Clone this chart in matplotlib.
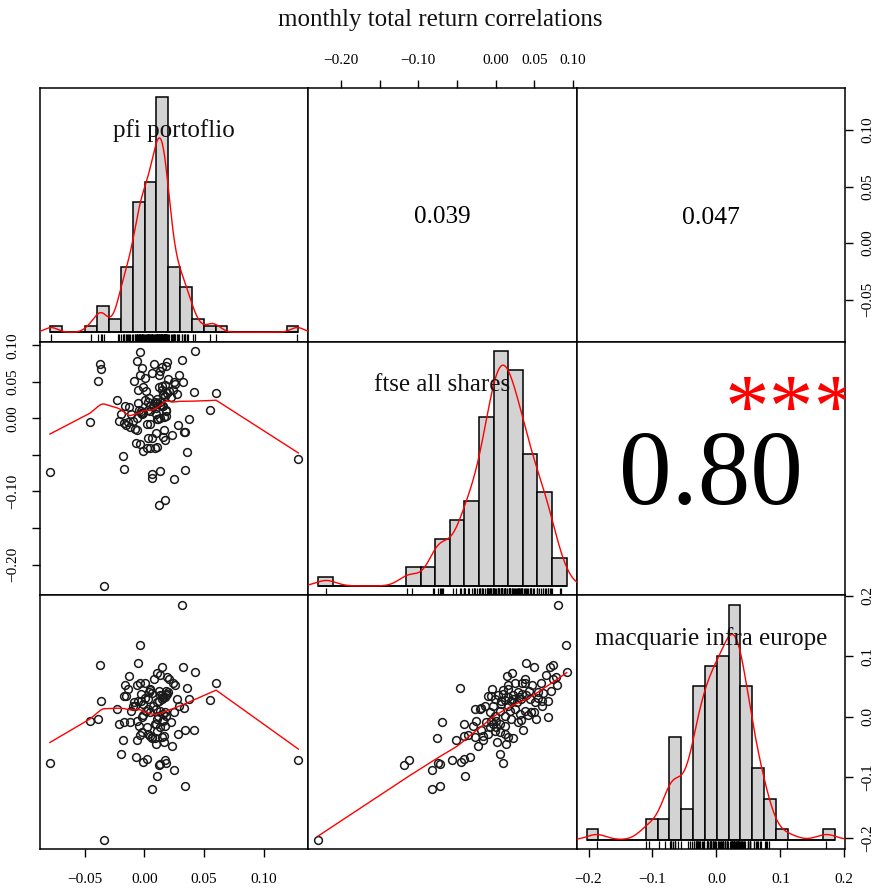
import numpy as np
import matplotlib
matplotlib.use("Agg")
import matplotlib.pyplot as plt

plt.rcParams['font.family'] = ['Liberation Serif', 'DejaVu Serif']
plt.rcParams['axes.unicode_minus'] = True

title = "monthly total return correlations"
var_names = ["pfi portoflio", "ftse all shares", "macquarie infra europe"]

pfi = [0.0315,
       -0.004,
       -0.005, 0.032, -0.037, 0.015,
       0.0427, 0.011, 0.0135, 0.019, -0.013, 0.021, 0.008,
       0.0601, 0.024, -0.004, -0.006, -0.016, 0.0002, 0.0355, -0.014, 0.005, 0.0036, 0.012, 0.0195, 0.018, 0.0048, 0.026,
       0.019, 0.0135, 0.0065, -0.015, -0.017, -0.003, 0.055, 0.016, -0.0055, 0.0275, 0.0008, -0.036, 0.0105, 0.0175,
       0.0035, 0.0145, -0.0085, 0.0185, -0.001, -0.0025, 0.015, 0.012, 0.037,
       -0.008, 0.003, 0.0095, 0.033, -0.011, -0.0226, 0.0018, 0.0175, 0.0245, 0.0072, -0.0095, 0.0155, -0.0015, 0.0115,
       0.0185, 0.0045, 0.0135, 0.029,
       -0.039, -0.002, -0.0455, 0.016, 0.009, -0.006, 0.0105, -0.0215, 0.0025, 0.0175, -0.017, 0.0102, 0.0225, -0.012,
       0.013, -0.0045, 0.016,
       0.005, -0.0035, 0.0164, 0.0107, -0.002, 0.003, 0.0144, 0.0092, 0.0413, 0.0065, 0.028, 0.034, 0.0064, -0.0065, -0.018,
       0.0164, 0.023, 0.0098,
       -0.0198, 0.018, 0.129, -0.0007, 0.002, -0.007, -0.079, 0.013, 0.0121, 0.017,
       0.025, 0.0107,
       0.0064, 0.034,
       -0.034]

ftse = [0.0803,
        0.0911,
        0.0392, 0.0500, 0.0738, 0.0703,
        0.0920, 0.0214, 0.0651, 0.0777, 0.0154, 0.0379, 0.0747,
        0.0348, 0.0383, 0.0587, 0.0790, 0.0162, 0.0249, -0.0465, -0.0045, 0.0162, 0.0284, 0.0431, 0.0543, 0.0716, 0.0097, 0.0465,
        0.0344, 0.0227, 0.0617, -0.0097, -0.0063, 0.0067, 0.0119, 0.0162, 0.0206, 0.0335, 0.0552, 0.0673, 0.0271, 0.0301,
        0.0227, 0.0444, 0.0509, 0.0032, 0.0076, 0.0097, 0.0390, 0.0595, -0.0011,
        -0.0141, -0.0271, -0.0206, -0.0184, 0.0054, 0.0249, 0.0379, 0.0457, 0.0500, 0.0162, -0.0032, 0.0314, 0.0422, -0.0011,
        0.0119, -0.0076, 0.0184, 0.0595,
        0.0517, 0.0682, -0.0054, -0.0249, -0.0405, 0.0011, 0.0206, -0.0032, -0.0076, -0.0292, -0.0690, 0.0054, 0.0292, -0.0119,
        0.0011, 0.0119, 0.0335,
        -0.0405, -0.0357, -0.0162, -0.0011, 0.0054, 0.0119, 0.0162, 0.0227, 0.0357, -0.0755, -0.0097, -0.0184, -0.0271, -0.0162, -0.0509,
        0.0024, -0.0227, 0.0141,
        0.0054, 0.0097, -0.0561, -0.0452, -0.0405, -0.0335, -0.0738, -0.0716, -0.1180, -0.1115,
        -0.0825, -0.0392,
        -0.0820, -0.0712,
        -0.2292]

macq = [0.1855,
        0.1188,
        0.0883, 0.0822, 0.0855, 0.0827,
        0.0744, 0.0733, 0.0699, 0.0661, 0.0677, 0.0622, 0.0633,
        0.0566, 0.0561, 0.0566, 0.0533, 0.0533, 0.0566, 0.0483, 0.0455, 0.0455, 0.0411, 0.0422, 0.0411, 0.0422, 0.0438, 0.0522,
        0.0383, 0.0366, 0.0388, 0.0344, 0.0344, 0.0255, 0.0272, 0.0327, 0.0255, 0.0288, 0.0311, 0.0255, 0.0244, 0.0327,
        0.0299, 0.0299, 0.0244, 0.0355, 0.0216, 0.0377, 0.0355, 0.0255, 0.0299,
        0.0177, 0.0133, 0.0133, 0.0144, 0.0105, 0.0133, 0.0105, 0.0088, 0.0077, 0.0188, 0.0177, 0.0049, 0.0033, 0.0022,
        0.0022, 0.0077, 0.0105, 0.0177,
        -0.0034, -0.0006, -0.0062, -0.0062, -0.0117, -0.0062, -0.0034, -0.0117, -0.0172, -0.0145, -0.0089, -0.0117, -0.0089,
        -0.0089, -0.0172, -0.0145, -0.0045,
        -0.0312, -0.0301, -0.0312, -0.0228, -0.0256, -0.0284, -0.0339, -0.0356, -0.0212, -0.0351, -0.0284, -0.0212, -0.0339, -0.0378, -0.0389,
        -0.0423, -0.0489, -0.0451,
        -0.0612, -0.0767, -0.0712, -0.0745, -0.0701, -0.0662, -0.0767, -0.0773, -0.0789, -0.0712,
        -0.0878, -0.0984,
        -0.1189, -0.1145,
        -0.203]

# histogram bin edges (as drawn in the reference)
pfi_breaks = np.round(np.arange(-0.08, 0.1301, 0.01), 3)
ftse_breaks = np.round(np.arange(-0.24, 0.1001, 0.02), 3)
macq_breaks = np.round(np.arange(-0.22, 0.2001, 0.02), 3)

# correlation panel contents
cor_pairs = [(0, 1), (0, 2), (1, 2)]
cor_values = [0.039, 0.047, 0.80]
cor_labels = ["0.039", "0.047", "0.80"]
cor_stars = ["", "", "***"]

# axis ticks
pfi_ticks = [-0.05, 0.0, 0.05, 0.10]
pfi_ticklabels = ["\u22120.05", "0.00", "0.05", "0.10"]
ftse_ticks = [-0.20, -0.15, -0.10, -0.05, 0.0, 0.05, 0.10]
ftse_ticklabels = ["\u22120.20", "", "\u22120.10", "", "0.00", "0.05", "0.10"]
macq_ticks = [-0.2, -0.1, 0.0, 0.1, 0.2]
macq_ticklabels = ["\u22120.2", "\u22120.1", "0.0", "0.1", "0.2"]

assert len(pfi) == len(ftse) == len(macq)
series = [np.array(pfi), np.array(ftse), np.array(macq)]
breaks = [pfi_breaks, ftse_breaks, macq_breaks]


def padded(lo, hi, f=0.04):
    d = (hi - lo) * f
    return lo - d, hi + d


def lowess(x, y, f=2 / 3, iters=3):
    o = np.argsort(x, kind="stable")
    x = x[o]; y = y[o]
    n = len(x)
    ns = max(min(int(round(f * n)), n), 2)
    rw = np.ones(n)
    fit = np.zeros(n)
    for it in range(iters + 1):
        for i in range(n):
            d = np.abs(x - x[i])
            h = max(np.sort(d)[ns - 1], 1e-12)
            u = d / h
            w = np.where(u < 0.999, (1 - np.clip(u, 0, 1) ** 3) ** 3, 0.0) * rw
            sw = w.sum()
            xm = (w * x).sum() / sw
            ym = (w * y).sum() / sw
            sxx = (w * (x - xm) ** 2).sum()
            b = (w * (x - xm) * (y - ym)).sum() / sxx if sxx > 1e-14 else 0.0
            fit[i] = ym + b * (x[i] - xm)
        if it == iters:
            break
        res = y - fit
        s = np.median(np.abs(res))
        if s == 0:
            break
        u = res / (6 * s)
        rw = np.where(np.abs(u) < 1, (1 - u ** 2) ** 2, 0.0)
    return x, fit


def kde(v):
    n = len(v)
    sd = v.std(ddof=1)
    q75, q25 = np.percentile(v, [75, 25])
    lo = min(sd, (q75 - q25) / 1.34)
    bw = 0.9 * lo * n ** (-0.2)
    g = np.linspace(v.min() - 3 * bw, v.max() + 3 * bw, 512)
    d = np.exp(-0.5 * ((g[:, None] - v[None, :]) / bw) ** 2).sum(1) / (n * bw * np.sqrt(2 * np.pi))
    return g, d


W, H = 880, 893
fig = plt.figure(figsize=(W / 100, H / 100), dpi=100)
px0, px1 = 40, 845
py0, py1 = 88, 849
pw = (px1 - px0) / 3.0
ph = (py1 - py0) / 3.0


def rect(i, j):
    left = (px0 + j * pw) / W
    bottom = 1 - (py0 + (i + 1) * ph) / H
    return [left, bottom, pw / W, ph / H]


lims = [padded(v.min(), v.max()) for v in series]
TL = dict(direction="out", length=6, width=1.0, labelsize=11, color="black")


def set_xt(ax, vals, labs, top=False):
    ax.set_xticks(vals)
    ax.set_xticklabels(labs)
    ax.tick_params(axis="x", top=top, bottom=not top, labeltop=top, labelbottom=not top,
                   pad=(9 if top else 11), **TL)


def set_yt(ax, vals, labs, right=False):
    ax.set_yticks(vals)
    ax.set_yticklabels(labs, rotation=90, va="center")
    ax.tick_params(axis="y", left=not right, right=right, labelleft=not right, labelright=right,
                   pad=(5.5 if right else 9), **TL)


axes = {}
for i in range(3):
    for j in range(3):
        ax = fig.add_axes(rect(i, j))
        ax.set_xlim(lims[j]); ax.set_ylim(lims[i])
        ax.set_xticks([]); ax.set_yticks([])
        for s in ax.spines.values():
            s.set_linewidth(1.1)
        axes[(i, j)] = ax
        if i > j:
            xs, ys = series[j], series[i]
            ax.plot(xs, ys, "o", mfc="none", mec="#1a1a1a", ms=5.6, mew=1.1, zorder=2)
            lx, ly = lowess(xs, ys)
            ax.plot(lx, ly, color="red", lw=1.0, zorder=3)

# diagonal histograms
for k in range(3):
    v = series[k]
    br = breaks[k]
    counts, _ = np.histogram(v, bins=br)
    dens = counts / (len(v) * np.diff(br))
    hax = fig.add_axes(rect(k, k), frameon=False)
    hax.patch.set_visible(False)
    hax.set_xticks([]); hax.set_yticks([])
    m = dens.max()
    hax.set_xlim(padded(br[0], br[-1]))
    hax.set_ylim(-0.04 * m, 1.04 * m)
    hax.bar(br[:-1], dens, width=np.diff(br), align="edge", color="#D3D3D3",
            edgecolor="black", linewidth=1.1, zorder=2)
    hax.hlines(0, br[0], br[-1], color="black", lw=1.1, zorder=2)
    g, d = kde(v)
    hax.plot(g, d, color="red", lw=1.0, zorder=3)
    ylo = -0.04 * m
    hax.vlines(v, ylo, ylo + 0.03 * (1.08 * m), color="black", lw=0.9, zorder=3)
    hax.text(0.5, 0.805, var_names[k], transform=hax.transAxes, ha="center", va="baseline",
             fontsize=18, color="#111111", zorder=5)

# correlation panels
renderer = fig.canvas.get_renderer()
for (i, j), r, lab, st in zip(cor_pairs, cor_values, cor_labels, cor_stars):
    ax = axes[(i, j)]
    factor = (abs(r) + 0.3) / 1.3
    t = ax.text(0.5, 0.5, lab, transform=ax.transAxes, ha="center", va="baseline", fontsize=10)
    w = t.get_window_extent(renderer).width
    fs = 10 * 0.8 * factor * pw / w
    t.set_fontsize(fs)
    em = fs * 100 / 72
    t.set_y(0.5 - 0.34 * em / ph)
    if st:
        sfs = 0.72 * fs / factor
        sem = sfs * 100 / 72
        ax.text(0.8, 0.8 - 0.52 * sem / ph + 4 / ph, st, transform=ax.transAxes, ha="center", va="baseline",
                fontsize=sfs, color="red", clip_on=True)

# outer axes
set_xt(axes[(0, 1)], ftse_ticks, ftse_ticklabels, top=True)
set_yt(axes[(0, 2)], pfi_ticks, pfi_ticklabels, right=True)
set_yt(axes[(1, 0)], ftse_ticks, ftse_ticklabels, right=False)
set_xt(axes[(2, 0)], pfi_ticks, pfi_ticklabels, top=False)
set_xt(axes[(2, 2)], macq_ticks, macq_ticklabels, top=False)
set_yt(axes[(2, 2)], macq_ticks, macq_ticklabels, right=True)

fig.text(0.5, 1 - 20 / H, title, ha="center", va="center", fontsize=18, color="#111111")

fig.savefig("out.png", dpi=100)
